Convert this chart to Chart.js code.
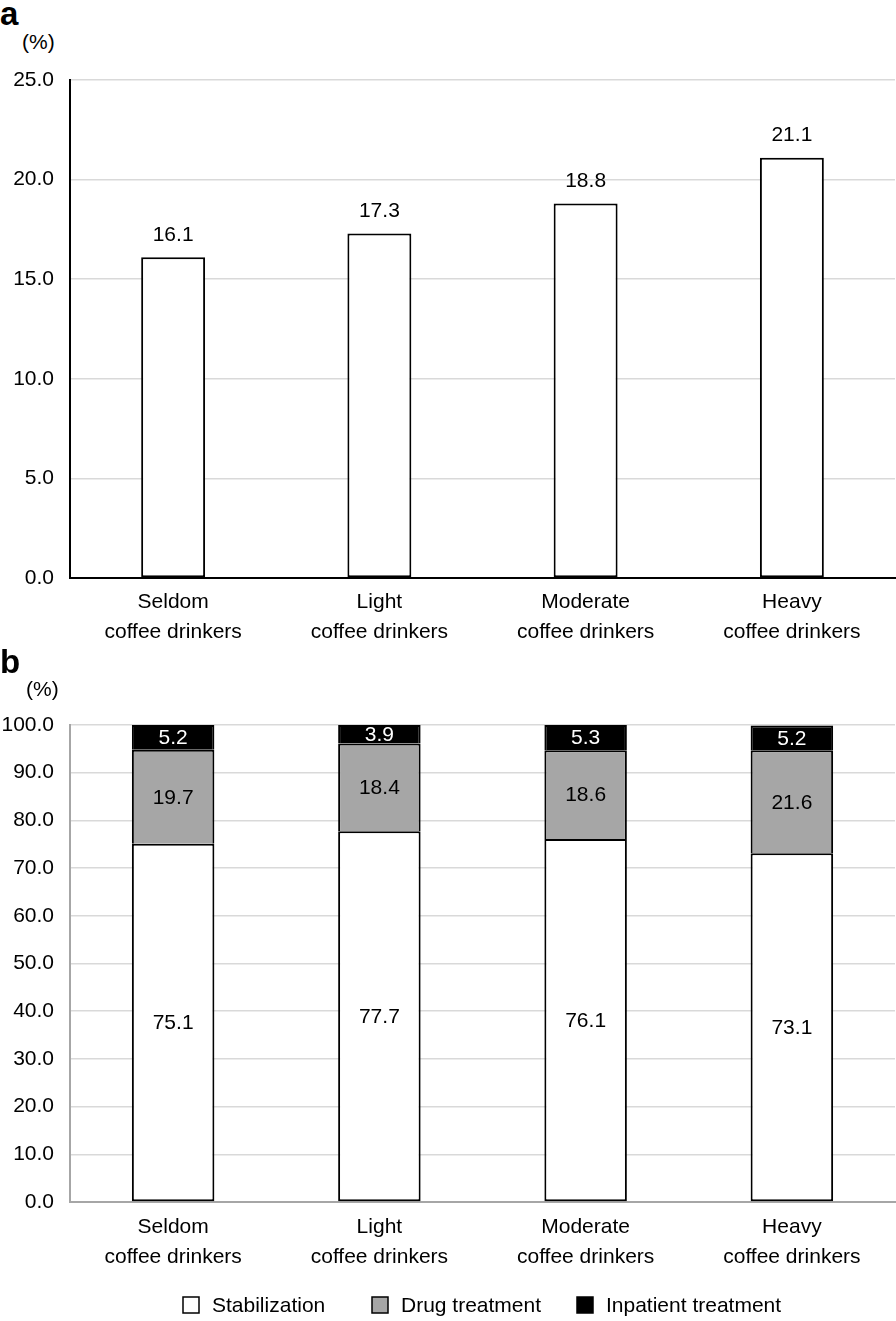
<!DOCTYPE html>
<html lang="en">
<head>
    <meta charset="UTF-8">
    <title>Coffee drinkers</title>
    <script src="https://cdn.jsdelivr.net/npm/chart.js"></script>
    <style>
        body { margin: 0; background: #fff; width: 896px; height: 1321px; position: relative; overflow: hidden; }
        .box { position: absolute; left: 0; width: 896px; }
        .panel { position: absolute; font-family: "Liberation Sans", Arial, sans-serif; font-weight: bold; font-size: 33px; color: #000; line-height: 1; }
        .unit { position: absolute; font-family: "Liberation Sans", Arial, sans-serif; font-size: 21px; color: #000; line-height: 1; }
    </style>
</head>
<body>
    <div class="panel" style="left:0; top:-3px;">a</div>
    <div class="unit" style="left:22px; top:31px;">(%)</div>
    <div class="box" style="top:0; height:660px;"><canvas id="chartA"></canvas></div>

    <div class="panel" style="left:0; top:645px;">b</div>
    <div class="unit" style="left:26px; top:678px;">(%)</div>
    <div class="box" style="top:660px; height:661px;"><canvas id="chartB"></canvas></div>

    <script>
        // categorie e dati
        const categories = [
            ['Seldom', 'coffee drinkers'],
            ['Light', 'coffee drinkers'],
            ['Moderate', 'coffee drinkers'],
            ['Heavy', 'coffee drinkers']
        ];
        const rateA = [16.1, 17.3, 18.8, 21.1];

        const seriesNames = ['Stabilization', 'Drug treatment', 'Inpatient treatment'];
        const stabilization = [75.1, 77.7, 76.1, 73.1];
        const drugTreatment = [19.7, 18.4, 18.6, 21.6];
        const inpatient = [5.2, 3.9, 5.3, 5.2];

        const ticksA = { min: 0, max: 25, step: 5 };
        const ticksB = { min: 0, max: 100, step: 10 };

        const FONT = '"Liberation Sans", Arial, sans-serif';
        const FS = 21;
        Chart.defaults.font.family = FONT;
        Chart.defaults.font.size = FS;
        Chart.defaults.color = '#000';

        // etichette dei valori
        const valueLabels = {
            id: 'valueLabels',
            afterDatasetsDraw(chart, args, opts) {
                const ctx = chart.ctx;
                ctx.save();
                ctx.font = FS + 'px ' + FONT;
                ctx.textAlign = 'center';
                chart.data.datasets.forEach((ds, i) => {
                    const meta = chart.getDatasetMeta(i);
                    meta.data.forEach((bar, j) => {
                        const txt = ds.data[j].toFixed(1);
                        ctx.fillStyle = ds.labelColor || '#000';
                        if (opts.inside) {
                            ctx.textBaseline = 'middle';
                            ctx.fillText(txt, bar.x, (bar.y + bar.base) / 2 + 1);
                        } else {
                            ctx.textBaseline = 'bottom';
                            ctx.fillText(txt, bar.x, bar.y - 12);
                        }
                    });
                });
                ctx.restore();
            }
        };

        // legenda disegnata a mano
        const bottomLegend = {
            id: 'bottomLegend',
            afterDraw(chart, args, opts) {
                if (!opts.show) return;
                const ctx = chart.ctx;
                const y = 645;
                const starts = [183, 372, 577];
                ctx.save();
                ctx.font = FS + 'px ' + FONT;
                ctx.textBaseline = 'middle';
                ctx.textAlign = 'left';
                chart.data.datasets.forEach((ds, i) => {
                    const x = starts[i];
                    ctx.fillStyle = ds.backgroundColor;
                    ctx.fillRect(x, y - 8, 16, 16);
                    ctx.strokeStyle = '#000';
                    ctx.lineWidth = 1.5;
                    ctx.strokeRect(x, y - 8, 16, 16);
                    ctx.fillStyle = '#000';
                    ctx.fillText(ds.label, x + 29, y + 1);
                });
                ctx.restore();
            }
        };

        function yFormat(v) { return Number(v).toFixed(1); }

        new Chart(document.getElementById('chartA'), {
            type: 'bar',
            data: {
                labels: categories,
                datasets: [{
                    label: 'Rate',
                    data: rateA,
                    backgroundColor: '#fff',
                    borderColor: '#000',
                    borderWidth: 2,
                    borderSkipped: false,
                    barPercentage: 0.31,
                    categoryPercentage: 1
                }]
            },
            options: {
                responsive: true,
                maintainAspectRatio: false,
                animation: false,
                layout: { padding: { top: 80, right: 1, left: 0, bottom: 0 } },
                plugins: { legend: { display: false }, tooltip: { enabled: false }, valueLabels: { inside: false } },
                scales: {
                    x: {
                        grid: { display: false, drawTicks: false },
                        border: { color: '#000', width: 2 },
                        ticks: { padding: 9, font: { size: FS, lineHeight: 1.43 }, maxRotation: 0 },
                        afterFit(s) { s.height = 82; }
                    },
                    y: {
                        min: ticksA.min, max: ticksA.max,
                        grid: { color: '#d9d9d9', lineWidth: 1.5, drawTicks: false },
                        border: { color: '#000', width: 2 },
                        ticks: { stepSize: ticksA.step, padding: 16, callback: yFormat },
                        afterFit(s) { s.width = 70; }
                    }
                }
            },
            plugins: [valueLabels]
        });

        new Chart(document.getElementById('chartB'), {
            type: 'bar',
            data: {
                labels: categories,
                datasets: [
                    { label: seriesNames[0], data: stabilization, backgroundColor: '#ffffff', labelColor: '#000', borderSkipped: false },
                    { label: seriesNames[1], data: drugTreatment, backgroundColor: '#a6a6a6', labelColor: '#000', borderSkipped: 'start' },
                    { label: seriesNames[2], data: inpatient, backgroundColor: '#000000', labelColor: '#fff', borderSkipped: 'start' }
                ].map(d => Object.assign(d, {
                    borderColor: '#000', borderWidth: 2,
                    barPercentage: 0.4, categoryPercentage: 1
                }))
            },
            options: {
                responsive: true,
                maintainAspectRatio: false,
                animation: false,
                layout: { padding: { top: 65, right: 1, left: 0, bottom: 0 } },
                plugins: {
                    legend: { display: false }, tooltip: { enabled: false },
                    valueLabels: { inside: true }, bottomLegend: { show: true }
                },
                scales: {
                    x: {
                        stacked: true,
                        grid: { display: false, drawTicks: false },
                        border: { color: '#a6a6a6', width: 2 },
                        ticks: { padding: 10, font: { size: FS, lineHeight: 1.43 }, maxRotation: 0 },
                        afterFit(s) { s.height = 119; }
                    },
                    y: {
                        stacked: true,
                        min: ticksB.min, max: ticksB.max,
                        grid: { color: '#d9d9d9', lineWidth: 1.5, drawTicks: false },
                        border: { color: '#a6a6a6', width: 2 },
                        ticks: { stepSize: ticksB.step, padding: 16, callback: yFormat },
                        afterFit(s) { s.width = 70; }
                    }
                }
            },
            plugins: [valueLabels, bottomLegend]
        });
    </script>
</body>
</html>
